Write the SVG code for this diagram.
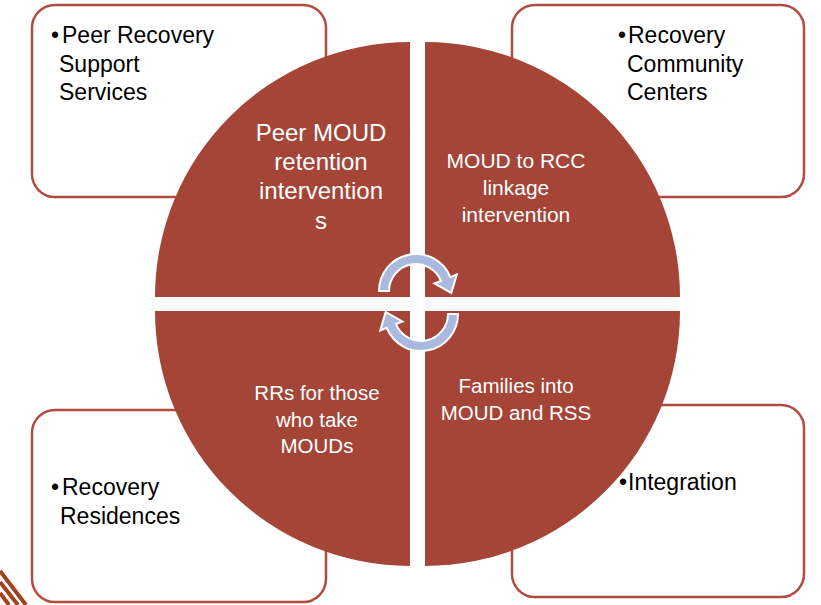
<svg xmlns="http://www.w3.org/2000/svg" width="821" height="605" viewBox="0 0 821 605">
<style>
.box{fill:#ffffff;stroke:#B24B40;stroke-width:2.5}
.quad{fill:#A44537}
.arr{fill:#AAB9DE;stroke:#ffffff;stroke-width:2}
.qt{font-family:"Liberation Sans",Arial,sans-serif;fill:#ffffff;text-anchor:middle}
.bt{font-family:"Liberation Sans",Arial,sans-serif;fill:#000000;font-size:23px}
</style>
<rect width="821" height="605" fill="#ffffff"/>
<g id="deco">
<path d="M0,571 L26,605 M0,582 L18,605 M0,593 L9,605" stroke="#A3421F" stroke-width="4" fill="none"/>
</g>
<g id="box-tl">
<rect class="box" x="32" y="5" width="294" height="192" rx="23"/>
<text class="bt" y="43"><tspan x="51">•</tspan><tspan x="62">Peer Recovery</tspan></text>
<text class="bt" x="59" y="72">Support</text>
<text class="bt" x="59" y="100">Services</text>
</g>
<g id="box-tr">
<rect class="box" x="512" y="5" width="292" height="192" rx="23"/>
<text class="bt" y="43"><tspan x="618">•</tspan><tspan x="628">Recovery</tspan></text>
<text class="bt" x="627" y="72">Community</text>
<text class="bt" x="627" y="100">Centers</text>
</g>
<g id="box-bl">
<rect class="box" x="32" y="410" width="294" height="192" rx="23"/>
<text class="bt" y="495"><tspan x="51">•</tspan><tspan x="62">Recovery</tspan></text>
<text class="bt" x="60" y="524">Residences</text>
</g>
<g id="box-br">
<rect class="box" x="512" y="405" width="292" height="192" rx="23"/>
<text class="bt" y="490"><tspan x="619">•</tspan><tspan x="628">Integration</tspan></text>
</g>
<g id="quad-tl">
<path class="quad" d="M410,297 L155,297 A255,255 0 0 1 410,42 Z"/>
<text class="qt" font-size="24" x="321" y="141">Peer MOUD</text>
<text class="qt" font-size="24" x="321" y="170">retention</text>
<text class="qt" font-size="24" x="321" y="199">intervention</text>
<text class="qt" font-size="24" x="321" y="229">s</text>
</g>
<g id="quad-tr">
<path class="quad" d="M425,297 L425,42 A255,255 0 0 1 680,297 Z"/>
<text class="qt" font-size="21" x="516" y="168">MOUD to RCC</text>
<text class="qt" font-size="21" x="516" y="195">linkage</text>
<text class="qt" font-size="21" x="516" y="222">intervention</text>
</g>
<g id="quad-br">
<path class="quad" d="M425,311 L680,311 A255,255 0 0 1 425,566 Z"/>
<text class="qt" font-size="20.5" x="516" y="393">Families into</text>
<text class="qt" font-size="20.5" x="516" y="420">MOUD and RSS</text>
</g>
<g id="quad-bl">
<path class="quad" d="M410,311 L410,566 A255,255 0 0 1 155,311 Z"/>
<text class="qt" font-size="20.5" x="317" y="400">RRs for those</text>
<text class="qt" font-size="20.5" x="317" y="427">who take</text>
<text class="qt" font-size="20.5" x="317" y="453">MOUDs</text>
</g>
<g id="connectors">
<path class="arr" transform="translate(416,291)" d="M-37,0 A37,37 0 0 1 34.3,-13.9 L40.8,-16.5 L35.3,1.9 L18.5,-7.5 L25,-10.1 A27,27 0 0 0 -27,0 Z"/>
<path class="arr" transform="translate(421,314) rotate(180)" d="M-37,0 A37,37 0 0 1 34.3,-13.9 L40.8,-16.5 L35.3,1.9 L18.5,-7.5 L25,-10.1 A27,27 0 0 0 -27,0 Z"/>
</g>
</svg>
